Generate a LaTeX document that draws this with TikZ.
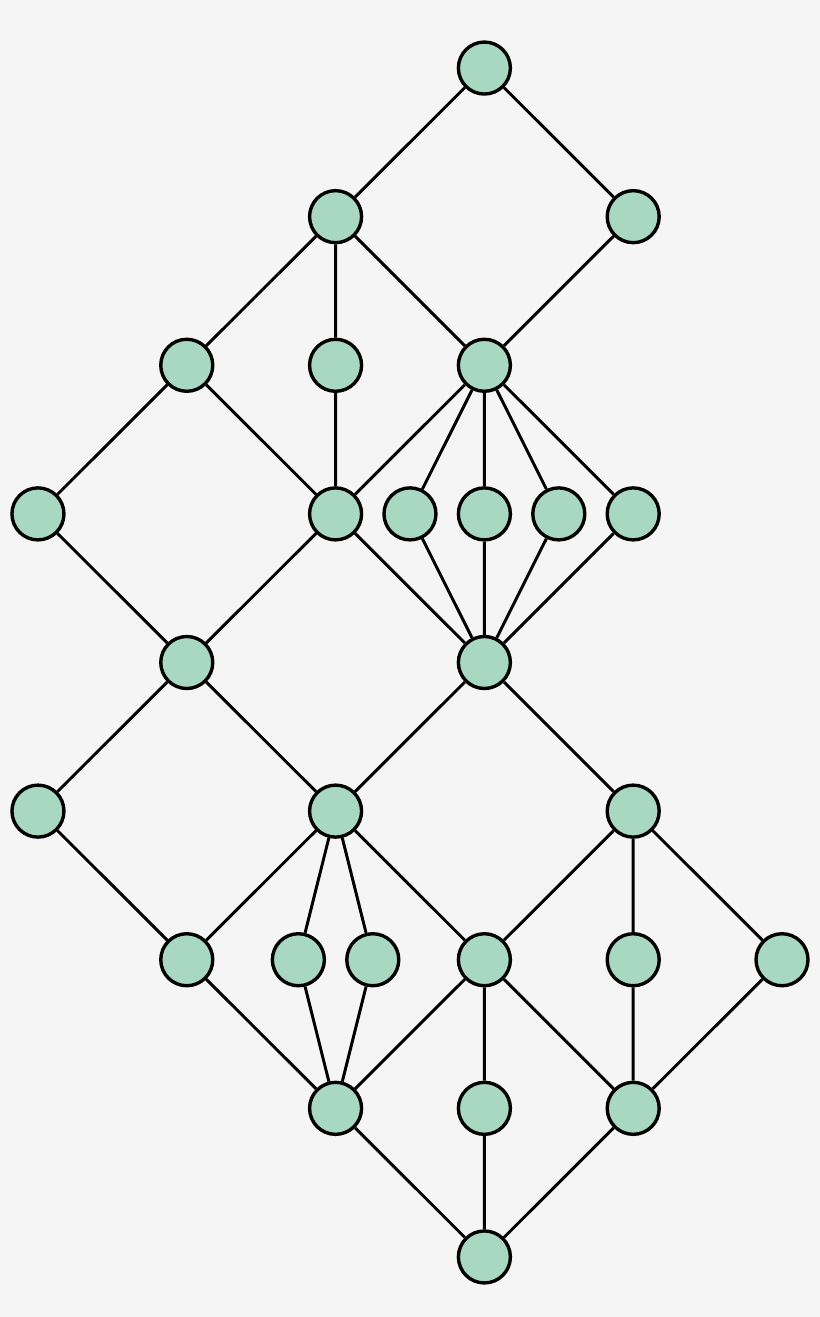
\documentclass[tikz,border=0pt]{standalone}
\definecolor{bgcol}{HTML}{F5F5F5}
\definecolor{mint}{HTML}{A8D8C2}
\tikzset{vertex/.style={circle, draw=black, fill=mint, line width=2.4pt, minimum size=1.3cm, inner sep=0pt}}
\begin{document}
\begin{tikzpicture}[x=3.72cm, y=3.715cm, line width=2.1pt]
\fill[bgcol] (-0.255,-0.404) rectangle (5.255,8.458);
\useasboundingbox (-0.255,-0.404) rectangle (5.255,8.458);
\node[vertex] (a1) at (3,8) {};
\node[vertex] (b1) at (2,7) {};
\node[vertex] (b2) at (4,7) {};
\node[vertex] (c1) at (1,6) {};
\node[vertex] (c2) at (2,6) {};
\node[vertex] (c3) at (3,6) {};
\node[vertex] (d1) at (0,5) {};
\node[vertex] (d2) at (2,5) {};
\node[vertex] (d3) at (2.5,5) {};
\node[vertex] (d4) at (3,5) {};
\node[vertex] (d5) at (3.5,5) {};
\node[vertex] (d6) at (4,5) {};
\node[vertex] (e1) at (1,4) {};
\node[vertex] (e2) at (3,4) {};
\node[vertex] (f1) at (0,3) {};
\node[vertex] (f2) at (2,3) {};
\node[vertex] (f3) at (4,3) {};
\node[vertex] (g1) at (1,2) {};
\node[vertex] (g2) at (1.75,2) {};
\node[vertex] (g3) at (2.25,2) {};
\node[vertex] (g4) at (3,2) {};
\node[vertex] (g5) at (4,2) {};
\node[vertex] (g6) at (5,2) {};
\node[vertex] (h1) at (2,1) {};
\node[vertex] (h2) at (3,1) {};
\node[vertex] (h3) at (4,1) {};
\node[vertex] (i1) at (3,0) {};
\draw (a1)--(b1) (a1)--(b2);
\draw (b1)--(c1) (b1)--(c2) (b1)--(c3) (b2)--(c3);
\draw (c1)--(d1) (c1)--(d2) (c2)--(d2);
\draw (c3)--(d2) (c3)--(d3) (c3)--(d4) (c3)--(d5) (c3)--(d6);
\draw (d1)--(e1) (d2)--(e1) (d2)--(e2);
\draw (d3)--(e2) (d4)--(e2) (d5)--(e2) (d6)--(e2);
\draw (e1)--(f1) (e1)--(f2) (e2)--(f2) (e2)--(f3);
\draw (f1)--(g1) (f2)--(g1) (f2)--(g2) (f2)--(g3) (f2)--(g4);
\draw (f3)--(g4) (f3)--(g5) (f3)--(g6);
\draw (g1)--(h1) (g2)--(h1) (g3)--(h1);
\draw (g4)--(h1) (g4)--(h2) (g4)--(h3) (g5)--(h3) (g6)--(h3);
\draw (h1)--(i1) (h2)--(i1) (h3)--(i1);
\end{tikzpicture}
\end{document}
